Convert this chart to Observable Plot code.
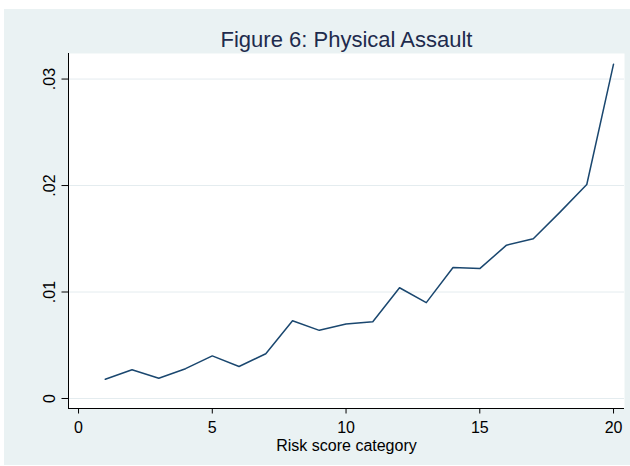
<!DOCTYPE html>
<html>
<head>
<meta charset="utf-8">
<script src="https://cdn.jsdelivr.net/npm/d3@7"></script>
<script src="https://cdn.jsdelivr.net/npm/@observablehq/plot@0.6"></script>
<style>
  html, body { margin: 0; padding: 0; background: #ffffff; }
  #wrap { position: relative; width: 630px; height: 466px; overflow: hidden; }
  #bg { position: absolute; left: 4px; top: 9px; right: 0; bottom: 1px; background: #EAF2F3; }
  #chart { position: absolute; left: 0; top: 0; }
  #chart svg { background: transparent; }
</style>
</head>
<body>
<div id="wrap"><div id="bg"></div><div id="chart"></div></div>
<script>
const titleText = "Figure 6: Physical Assault";
const xLabel = "Risk score category";
const categories = [1, 2, 3, 4, 5, 6, 7, 8, 9, 10, 11, 12, 13, 14, 15, 16, 17, 18, 19, 20];
const rates = [0.0018, 0.0027, 0.0019, 0.0028, 0.0040, 0.0030, 0.0042, 0.0073, 0.0064, 0.0070,
               0.0072, 0.0104, 0.0090, 0.0123, 0.0122, 0.0144, 0.0150, 0.0175, 0.0201, 0.0314];
const xTicks = [0, 5, 10, 15, 20];
const yTicks = [0, 0.01, 0.02, 0.03];

const data = categories.map((c, i) => ({category: c, rate: rates[i]}));
const xDomain = [-0.375, 20.41];
const yDomain = [-0.00094, 0.0324];
const fmtY = d => d === 0 ? "0" : d3.format(".2f")(d).replace(/^0/, "");

const chart = Plot.plot({
  width: 630,
  height: 466,
  marginLeft: 68,
  marginRight: 6,
  marginTop: 53,
  marginBottom: 58,
  style: {fontFamily: "'Liberation Sans', Arial, sans-serif", background: "transparent", color: "#000"},
  x: {domain: xDomain},
  y: {domain: yDomain},
  marks: [
    Plot.frame({fill: "white", stroke: null}),
    Plot.ruleY(yTicks, {stroke: "#E4ECEF", strokeWidth: 1}),
    Plot.ruleX([xDomain[0]], {stroke: "#000", strokeWidth: 1}),
    Plot.ruleY([yDomain[0]], {stroke: "#000", strokeWidth: 1}),
    Plot.axisY({ticks: yTicks, tickFormat: fmtY, tickSize: 6.5, tickPadding: 7.5, tickRotate: -90, fontSize: 16, label: null, stroke: "#000"}),
    Plot.axisX({ticks: xTicks, tickSize: 5.5, tickPadding: 7.5, fontSize: 16, label: xLabel, labelAnchor: "center", labelArrow: "none", labelOffset: 42, stroke: "#000"}),
    Plot.line(data, {x: "category", y: "rate", stroke: "#1A476F", strokeWidth: 1.5}),
    Plot.text([titleText], {frameAnchor: "top", dy: -6.3, lineAnchor: "bottom", fontSize: 22, fill: "#1E2B4D"})
  ]
});
document.getElementById("chart").appendChild(chart);
</script>
</body>
</html>
